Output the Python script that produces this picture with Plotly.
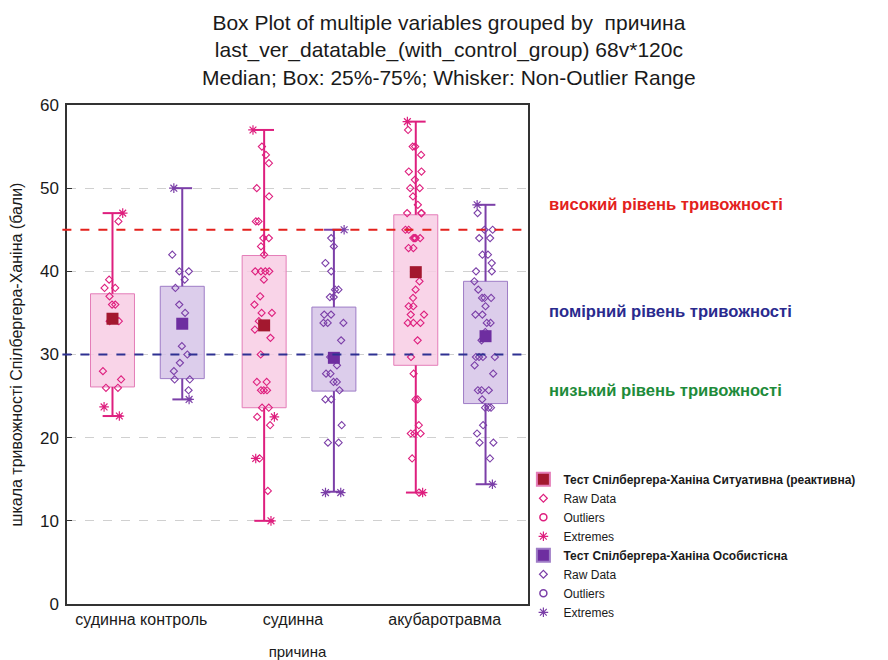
import plotly.graph_objects as go

# ---------------- data ----------------
categories = ["судинна контроль", "судинна", "акубаротравма"]
series_names = ["Тест Спілбергера-Ханіна Ситуативна (реактивна)",
                "Тест Спілбергера-Ханіна Особистісна"]

# box statistics per group: [control, судинна, акубаротравма]
sit_median = [34.3, 33.5, 39.9]
sit_q1 = [26.1, 23.6, 28.7]
sit_q3 = [37.3, 41.9, 46.8]
sit_low = [22.6, 10.0, 13.4]
sit_high = [47.0, 57.0, 58.0]

os_median = [33.7, 29.6, 32.2]
os_q1 = [27.1, 25.6, 24.1]
os_q3 = [38.2, 35.7, 38.8]
os_low = [24.6, 13.5, 14.4]
os_high = [50.0, 45.0, 48.0]

# raw data points
sit_raw_control = [46, 39, 38, 38, 37, 36, 36, 34, 34, 28, 27, 26, 26]
sit_raw_vascular = [55, 54, 53, 50, 49, 46, 46, 44, 44, 43, 42, 40, 40, 40, 40,
                    39, 37, 36, 35, 35, 34, 33, 32, 30, 26.7, 26.7, 25.7, 25.7,
                    25.7, 23.6, 23.6, 22.5, 21.5, 17.5, 13.6]
sit_raw_baro = [57, 55, 55, 54, 52, 52, 51, 50, 50, 49, 48, 47, 47, 47, 45, 45,
                44, 44, 44, 44, 42.8, 42.8, 40, 38.8, 37.8, 36.8, 35.8, 35.8,
                34.8, 34.8, 33.8, 33.8, 33.8, 31.7, 29.7, 27.7, 24.6, 24.6,
                21.5, 20.5, 20.5, 20.5, 17.5, 13.4]

os_raw_control = [42, 40, 40, 39, 38, 36, 35, 31, 30, 29, 28, 27, 27, 25.7]
os_raw_vascular = [44, 43, 41, 40, 37.8, 37.8, 36.9, 36.9, 34.8, 34.8, 33.8,
                   33.8, 33.8, 31.7, 29.7, 28.7, 27.7, 27.7, 26.7, 26.7, 25.7,
                   24.6, 24.6, 21.5, 19.4, 19.4]
os_raw_baro = [47, 45, 45, 44, 44, 42, 42, 41, 40, 40, 38.8, 37.8, 36.8, 36.8,
               36.8, 35.8, 34.8, 34.8, 33.8, 33.8, 32.7, 31.7, 29.7, 29.7, 29.7,
               29.7, 28.7, 27.7, 25.7, 25.7, 25.7, 24.6, 23.6, 23.6, 23.6, 21.5,
               20.5, 19.4, 19.4, 17.5]

# extremes (asterisks)
sit_ext_control = [47.0, 23.7, 22.6]
sit_ext_vascular = [57.0, 22.5, 17.5, 10.0]
sit_ext_baro = [58.0, 13.4]
os_ext_control = [50.0, 24.6]
os_ext_vascular = [45.0, 13.4, 13.4]
os_ext_baro = [48.0, 14.4]

thresholds = [45, 30]
threshold_labels = ["високий рівень тривожності", "помірний рівень тривожності",
                    "низький рівень тривожності"]
threshold_label_y = [48.0, 35.2, 25.7]

# ---------------- styles ----------------
PINK = "#DE1F7E"
PINK_FILL = "rgba(248,205,228,0.85)"
PINK_EDGE = "#E47DB8"
DARKRED = "#A3182F"
PURPLE = "#7B3FA8"
PURPLE_FILL = "rgba(214,196,232,0.85)"
PURPLE_EDGE = "#9E7CC6"
DPURPLE = "#6E2EA0"
FONT = "Liberation Sans, Arial, sans-serif"

OFF = 0.23
BOXW = 0.29
CAP = 0.065

fig = go.Figure()

series = [
    dict(med=sit_median, q1=sit_q1, q3=sit_q3, lo=sit_low, hi=sit_high,
         raw=[sit_raw_control, sit_raw_vascular, sit_raw_baro],
         ext=[sit_ext_control, sit_ext_vascular, sit_ext_baro],
         c=PINK, fill=PINK_FILL, edge=PINK_EDGE, mc=DARKRED, off=-OFF),
    dict(med=os_median, q1=os_q1, q3=os_q3, lo=os_low, hi=os_high,
         raw=[os_raw_control, os_raw_vascular, os_raw_baro],
         ext=[os_ext_control, os_ext_vascular, os_ext_baro],
         c=PURPLE, fill=PURPLE_FILL, edge=PURPLE_EDGE, mc=DPURPLE, off=OFF),
]

for s in series:
    xs = [i + s["off"] for i in range(len(categories))]
    # boxes
    fig.add_trace(go.Bar(
        x=xs, base=s["q1"], y=[b - a for a, b in zip(s["q1"], s["q3"])],
        width=BOXW, marker=dict(color=s["fill"], line=dict(color=s["edge"], width=1)),
        showlegend=False, hoverinfo="skip"))
    # whiskers + caps
    wx, wy = [], []
    for x, a, b, lo, hi in zip(xs, s["q1"], s["q3"], s["lo"], s["hi"]):
        wx += [x, x, None, x, x, None, x - CAP, x + CAP, None, x - CAP, x + CAP, None]
        wy += [b, hi, None, a, lo, None, hi, hi, None, lo, lo, None]
    fig.add_trace(go.Scatter(x=wx, y=wy, mode="lines", line=dict(color=s["c"], width=2),
                             showlegend=False, hoverinfo="skip"))
    # raw points (jittered by the library)
    for x, vals in zip(xs, s["raw"]):
        fig.add_trace(go.Box(
            x=[x] * len(vals), y=vals, width=BOXW, boxpoints="all", jitter=0.55, pointpos=0,
            fillcolor="rgba(0,0,0,0)", line=dict(width=0, color="rgba(0,0,0,0)"),
            marker=dict(symbol="diamond-open", size=5.5, color=s["c"],
                        line=dict(width=1.1, color=s["c"])),
            showlegend=False, hoverinfo="y"))
    for x, vals in zip(xs, s["ext"]):
        fig.add_trace(go.Box(
            x=[x] * len(vals), y=vals, width=BOXW, boxpoints="all", jitter=0.6, pointpos=0,
            fillcolor="rgba(0,0,0,0)", line=dict(width=0, color="rgba(0,0,0,0)"),
            marker=dict(symbol="asterisk-open", size=8, color=s["c"],
                        line=dict(width=1.2, color=s["c"])),
            showlegend=False, hoverinfo="y"))
    # median squares
    fig.add_trace(go.Scatter(x=xs, y=s["med"], mode="markers",
                             marker=dict(symbol="square", size=12, color=s["mc"]),
                             showlegend=False))

# legend entries
for name, s in zip(series_names, series):
    fig.add_trace(go.Scatter(x=[None], y=[None], mode="markers", name="<b>" + name + "</b>",
                             marker=dict(symbol="square", size=13, color=s["mc"],
                                         line=dict(color=s["edge"], width=2))))
    fig.add_trace(go.Scatter(x=[None], y=[None], mode="markers", name="Raw Data",
                             marker=dict(symbol="diamond-open", size=6, color=s["c"],
                                         line=dict(width=1.2, color=s["c"]))))
    fig.add_trace(go.Scatter(x=[None], y=[None], mode="markers", name="Outliers",
                             marker=dict(symbol="circle-open", size=7, color=s["c"],
                                         line=dict(width=1.5, color=s["c"]))))
    fig.add_trace(go.Scatter(x=[None], y=[None], mode="markers", name="Extremes",
                             marker=dict(symbol="asterisk-open", size=8, color=s["c"],
                                         line=dict(width=1.2, color=s["c"]))))

# threshold lines
line_colors = ["#E3211C", "#2E3192"]
for t, lc in zip(thresholds, line_colors):
    fig.add_shape(type="line", xref="paper", x0=-0.01, x1=1, yref="y", y0=t, y1=t,
                  line=dict(color=lc, width=1.8, dash="dash"), layer="above")

label_colors = ["#E3211C", "#2A2A8E", "#1E8B3A"]
for txt, yy, lc in zip(threshold_labels, threshold_label_y, label_colors):
    fig.add_annotation(text="<b>" + txt + "</b>", xref="paper", x=1.041, xanchor="left",
                       yref="y", y=yy, showarrow=False,
                       font=dict(family=FONT, size=16.6, color=lc))

fig.update_layout(
    width=880, height=652,
    margin=dict(l=59, r=360, t=97, b=56, autoexpand=False),
    paper_bgcolor="white", plot_bgcolor="white",
    barmode="overlay", boxmode="overlay",
    font=dict(family=FONT, size=15, color="#1a1a1a"),
    title=dict(text="Box Plot of multiple variables grouped by  причина<br>"
                    "last_ver_datatable_(with_control_group) 68v*120c<br>"
                    "Median; Box: 25%-75%; Whisker: Non-Outlier Range",
               x=0.501, xanchor="center", y=0.966, yanchor="top",
               font=dict(family=FONT, size=21, color="#1a1a1a")),
    legend=dict(x=0.99, xanchor="left", y=0.279, yanchor="top",
                font=dict(family=FONT, size=12, color="#1a1a1a"),
                bgcolor="rgba(0,0,0,0)", tracegroupgap=0, itemsizing="trace"),
    xaxis=dict(range=[-0.53, 2.51], tickvals=list(range(len(categories))),
               ticktext=categories, showgrid=False, zeroline=False, automargin=False,
               showline=True, mirror=True, linecolor="#333", linewidth=1.5,
               ticks="", ticklabelshift=-6,
               title=dict(text="причина", standoff=20,
                          font=dict(family=FONT, size=15)),
               tickfont=dict(family=FONT, size=16)),
    yaxis=dict(range=[0, 60], tickvals=[0, 10, 20, 30, 40, 50, 60], automargin=False,
               showgrid=True, gridcolor="#d0d0d0", griddash="dash", gridwidth=1,
               zeroline=False, showline=True, mirror=True, linecolor="#333",
               linewidth=1.5, ticks="inside", ticklen=5, tickcolor="#333",
               ticklabelstandoff=3,
               title=dict(text="шкала тривожності Спілбергера-Ханіна (бали)",
                          font=dict(family=FONT, size=16), standoff=16),
               tickfont=dict(family=FONT, size=17)),
)

fig.write_html("out.html")
